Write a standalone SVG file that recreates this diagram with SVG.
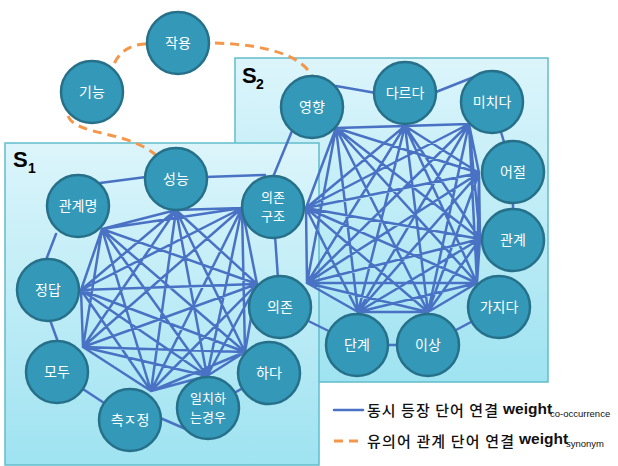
<svg xmlns="http://www.w3.org/2000/svg" width="618" height="466" viewBox="0 0 618 466">
<defs>
<linearGradient id="boxg" x1="0" y1="0" x2="0" y2="1">
<stop offset="0" stop-color="#dcf5fb"/>
<stop offset="1" stop-color="#9fe3f1"/>
</linearGradient>
<style>
.box{fill:url(#boxg);stroke:#62bccb;stroke-width:1.5}
.co{fill:none;stroke:#4a72c4;stroke-width:2.5;stroke-linecap:round}
.syn{fill:none;stroke:#f5974a;stroke-width:3;stroke-dasharray:9 6}
.node circle{fill:#3499b9;stroke:#27708a;stroke-width:2.5}
.node text{fill:#ffffff;font-family:"Noto Sans CJK KR","Noto Sans",sans-serif;font-size:14px;text-anchor:middle}
.node text.two{font-size:13px}
.lbl{font-family:"Liberation Sans",Arial,sans-serif;font-weight:bold;fill:#000}
.leg{font-family:"Noto Sans CJK KR",sans-serif;font-size:15px;font-weight:500;fill:#111}
.w{font-family:"Liberation Sans",Arial,sans-serif;font-weight:bold;font-size:15.5px;fill:#111}
.sub{font-family:"Liberation Sans",Arial,sans-serif;font-size:9.5px;fill:#111}
</style>
</defs>
<rect width="618" height="466" fill="#ffffff"/>
<g id="box-s2">
<rect class="box" x="235" y="58" width="313" height="324"/>
<text class="lbl" x="242" y="83" font-size="22">S</text>
<text class="lbl" x="256" y="89" font-size="14">2</text>
</g>
<g id="box-s1">
<rect class="box" x="5" y="143" width="314" height="322"/>
<text class="lbl" x="13" y="167" font-size="22">S</text>
<text class="lbl" x="28" y="173" font-size="14">1</text>
</g>
<g id="connectors">
<path class="syn" d="M146,44 C128,44 115,55 112,71"/>
<path class="syn" d="M215,43 Q296,46 312,76"/>
<path class="syn" d="M68,116 C76,136 128,130 157,156"/>
<path class="co" d="M176 210L242 208M176 210L102 229M176 210L81 290M176 210L83 347M176 210L151 391M176 210L207 376M176 210L245 352M176 210L257 284M242 208L102 229M242 208L81 290M242 208L83 347M242 208L151 391M242 208L207 376M242 208L245 352M242 208L257 284M102 229L81 290M102 229L83 347M102 229L151 391M102 229L207 376M102 229L245 352M102 229L257 284M81 290L83 347M81 290L151 391M81 290L207 376M81 290L245 352M81 290L257 284M83 347L151 391M83 347L207 376M83 347L245 352M83 347L257 284M151 391L207 376M151 391L245 352M151 391L257 284M207 376L245 352M207 376L257 284M245 352L257 284"/>
<path class="co" d="M336 128L405 126M336 128L469 124M336 128L479 173M336 128L480 239M336 128L477 283M336 128L428 312M336 128L358 312M336 128L307 283M336 128L306 208M405 126L469 124M405 126L479 173M405 126L480 239M405 126L477 283M405 126L428 312M405 126L358 312M405 126L307 283M405 126L306 208M469 124L479 173M469 124L480 239M469 124L477 283M469 124L428 312M469 124L358 312M469 124L307 283M469 124L306 208M479 173L480 239M479 173L477 283M479 173L428 312M479 173L358 312M479 173L307 283M479 173L306 208M480 239L477 283M480 239L428 312M480 239L358 312M480 239L307 283M480 239L306 208M477 283L428 312M477 283L358 312M477 283L307 283M477 283L306 208M428 312L358 312M428 312L307 283M428 312L306 208M358 312L307 283M358 312L306 208M307 283L306 208"/>
<path class="co" d="M336 86L376 93M436 92L484 73M492 102L513 172M513 172L513 240M499 307L428 345M428 345L357 345M357 345L280 307M280 307L273 207M273 177L292 131"/>
<path class="co" d="M100 183L146 177M205 177L265 175M56 234L46 260M50 320L58 342M57 372L130 420M158 417L188 430M208 408L269 373"/>
</g>
<g id="n-jakyong" class="node"><circle cx="178" cy="43" r="31"/><text x="178" y="48">작용</text></g>
<g id="n-gineung" class="node"><circle cx="92" cy="92" r="31"/><text x="92" y="97">기능</text></g>
<g id="n-yeonghyang" class="node"><circle cx="312" cy="107" r="31"/><text x="312" y="112">영향</text></g>
<g id="n-dareuda" class="node"><circle cx="405" cy="93" r="31"/><text x="405" y="98">다르다</text></g>
<g id="n-michida" class="node"><circle cx="492" cy="102" r="31"/><text x="492" y="107">미치다</text></g>
<g id="n-eojeol" class="node"><circle cx="513" cy="172" r="31"/><text x="513" y="177">어절</text></g>
<g id="n-gwangye" class="node"><circle cx="513" cy="240" r="31"/><text x="513" y="245">관계</text></g>
<g id="n-gajida" class="node"><circle cx="499" cy="307" r="31"/><text x="499" y="312">가지다</text></g>
<g id="n-isang" class="node"><circle cx="428" cy="345" r="31"/><text x="428" y="350">이상</text></g>
<g id="n-dangye" class="node"><circle cx="357" cy="345" r="31"/><text x="357" y="350">단계</text></g>
<g id="n-uijon" class="node"><circle cx="280" cy="307" r="31"/><text x="280" y="312">의존</text></g>
<g id="n-uijongujo" class="node"><circle cx="273" cy="207" r="31"/><text class="two" x="273" y="202">의존<tspan x="273" dy="19">구조</tspan></text></g>
<g id="n-seongneung" class="node"><circle cx="176" cy="179" r="31"/><text x="176" y="184">성능</text></g>
<g id="n-gwangyemyeong" class="node"><circle cx="78" cy="206" r="31"/><text x="78" y="211">관계명</text></g>
<g id="n-jeongdap" class="node"><circle cx="48" cy="290" r="31"/><text x="48" y="295">정답</text></g>
<g id="n-modu" class="node"><circle cx="57" cy="372" r="31"/><text x="57" y="377">모두</text></g>
<g id="n-cheukjeong" class="node"><circle cx="130" cy="420" r="31"/><text x="130" y="425">측ㅈ정</text></g>
<g id="n-ilchi" class="node"><circle cx="208" cy="408" r="31"/><text class="two" x="208" y="403">일치하<tspan x="208" dy="19">는경우</tspan></text></g>
<g id="n-hada" class="node"><circle cx="269" cy="373" r="31"/><text x="269" y="378">하다</text></g>
<g id="legend">
<line class="co" x1="334" y1="410" x2="363" y2="410"/>
<line x1="334" y1="441" x2="364" y2="441" stroke="#f5974a" stroke-width="3" stroke-dasharray="9 6"/>
<text class="leg" x="367" y="416" textLength="131" lengthAdjust="spacing">동시 등장 단어 연결</text>
<text class="w" x="503" y="414">weight</text>
<text class="sub" x="550" y="417">co-occurrence</text>
<text class="leg" x="367" y="447" textLength="147" lengthAdjust="spacing">유의어 관계 단어 연결</text>
<text class="w" x="519" y="444">weight</text>
<text class="sub" x="566" y="447">synonym</text>
</g>
</svg>
